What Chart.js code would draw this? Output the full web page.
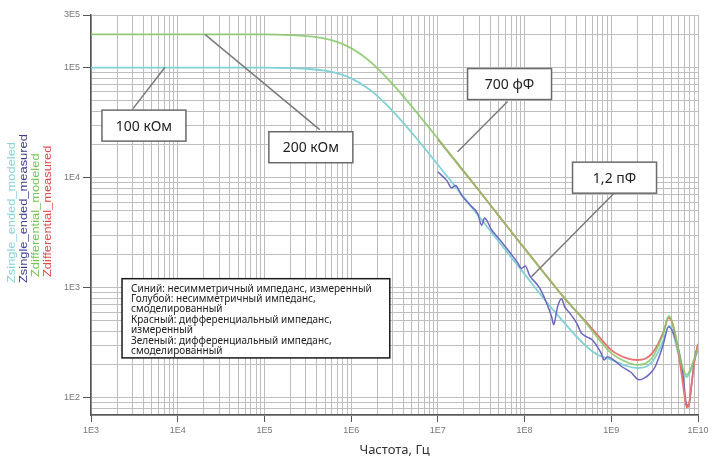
<!DOCTYPE html>
<html>
<head>
<meta charset="utf-8">
<script src="https://cdn.jsdelivr.net/npm/chart.js@4/dist/chart.umd.min.js"></script>
<style>
  html, body { margin: 0; padding: 0; background: #fff; }
  #wrap { width: 721px; height: 460px; }
</style>
</head>
<body>
<div id="wrap"><canvas id="impChart" width="721" height="460"></canvas></div>
<script>
// modeled curves share one frequency list
const freqModel = [1e3, 1e4, 1e5, 2e5, 3e5, 5e5, 7e5, 1e6, 1.5e6, 2e6, 3e6, 5e6, 7e6, 1e7, 2e7, 5e7, 1e8, 2e8, 5e8, 7e8,
    1e9, 1.5e9, 2e9, 2.5e9, 3e9, 3.5e9, 4e9, 4.6e9, 5e9, 5.5e9, 6e9, 6.5e9, 7e9, 7.4e9, 8e9, 9e9, 1e10];
const zDiffModeled = [2e5, 2e5, 2e5, 1.97e5, 1.93e5, 1.83e5, 1.70e5, 1.50e5, 1.21e5, 9.9e4, 7.1e4, 4.44e4, 3.21e4, 2.26e4, 1.14e4, 4550, 2270, 1140, 490, 350,
    255, 212, 200, 206, 235, 300, 390, 556, 500, 370, 265, 200, 170, 162, 175, 225, 285];
const zSingleModeled = [1e5, 1e5, 1e5, 9.89e4, 9.75e4, 9.36e4, 8.84e4, 7.98e4, 6.62e4, 5.53e4, 4.04e4, 2.56e4, 1.86e4, 1.31e4, 6620, 2650, 1330, 670, 300, 245,
    222, 195, 187, 192, 215, 265, 335, 452, 420, 320, 240, 190, 162, 155, 168, 215, 273];

// measured curves
const freqSingleMeas = [1e7, 1.27e7, 1.44e7, 1.6e7, 1.88e7, 2.32e7, 2.88e7, 3.2e7, 3.46e7, 4.17e7, 5.15e7, 6.75e7, 8.3e7, 9.2e7, 1.02e8, 1.14e8,
    1.49e8, 1.79e8, 2.05e8, 2.17e8, 2.28e8, 2.4e8, 2.67e8, 2.9e8, 3.3e8, 3.97e8, 4.5e8, 5.2e8, 6.0e8, 7.6e8, 8.3e8, 9.0e8,
    1.07e9, 1.34e9, 1.67e9, 2.1e9, 2.42e9, 2.7e9, 3.2e9, 3.9e9, 4.6e9, 5.4e9, 6.1e9, 6.8e9, 7.3e9, 7.8e9, 8.4e9, 9.2e9, 1e10];
const zSingleMeas = [1.13e4, 9400, 8100, 8500, 6900, 5700, 4700, 3700, 4300, 3350, 2750, 2100, 1700, 1500, 1580, 1300,
    1000, 731, 545, 461, 545, 671, 795, 671, 593, 481, 390, 359, 337, 257, 221, 236,
    221, 191, 172, 146, 152, 162, 191, 291, 442, 359, 257, 150, 90, 85, 130, 230, 300];
const freqDiffMeas = [1e7, 1.5e7, 2e7, 3e7, 5e7, 7e7, 1e8, 1.5e8, 2e8, 3e8, 5e8, 7e8, 1e9, 1.5e9, 2e9, 2.5e9, 3e9, 3.5e9, 4e9, 4.6e9,
    5e9, 5.5e9, 6e9, 6.5e9, 7e9, 7.4e9, 7.8e9, 8.4e9, 9.2e9, 1e10];
const zDiffMeas = [2.24e4, 1.5e4, 1.13e4, 7600, 4550, 3250, 2280, 1530, 1150, 775, 500, 370, 272, 230, 221, 228, 258, 315, 400, 533,
    490, 365, 250, 160, 105, 82, 85, 130, 230, 310];

// axis ticks
const xMajor = [1e3, 1e4, 1e5, 1e6, 1e7, 1e8, 1e9, 1e10];
const xTickLabels = ['1E3', '1E4', '1E5', '1E6', '1E7', '1E8', '1E9', '1E10'];
const yMajor = [1e2, 1e3, 1e4, 1e5, 3e5];
const yTickLabels = ['1E2', '1E3', '1E4', '1E5', '3E5'];

const seriesNames = ['Zsingle_ended_modeled', 'Zsingle_ended_measured', 'Zdifferential_modeled', 'Zdifferential_measured'];
const seriesColors = ['#80d2d6', '#6a66c2', 'rgba(134,200,102,0.85)', '#e87272'];
const nameColors = ['#86d2da', '#3c3c94', '#74c250', '#e84848'];

const legendLines = [
    'Синий: несимметричный импеданс, измеренный',
    'Голубой: несимметричный импеданс,',
    'смоделированный',
    'Красный: дифференциальный импеданс,',
    'измеренный',
    'Зеленый: дифференциальный импеданс,',
    'смоделированный'
];

// callouts: box centre, leader start and leader tip in data coords
const notes = [
    { text: '100 кОм', at: [4.08e3, 2.97e4], from: [3.05e3, 4.24e4], to: [7.1e3, 1e5] },
    { text: '200 кОм', at: [3.43e5, 1.89e4], from: [4.34e5, 2.73e4], to: [2.06e4, 2e5] },
    { text: '700 фФ', at: [6.71e7, 7.08e4], from: [6.37e7, 4.91e4], to: [1.69e7, 1.72e4] },
    { text: '1,2 пФ', at: [1.09e9, 1e4], from: [1.09e9, 7.31e3], to: [1.2e8, 1.26e3] }
];

const pairs = (xs, ys) => xs.map((v, i) => ({ x: v, y: ys[i] }));

const near = (a, b) => Math.abs(a / b - 1) < 1e-9;
const majorIndex = (list, v) => list.findIndex(m => near(v, m));

function logTicks(min, max) {
    const out = [];
    for (let e = Math.floor(Math.log10(min)); e <= Math.ceil(Math.log10(max)); e++) {
        for (let d = 1; d <= 9; d++) {
            const v = d * Math.pow(10, e);
            if (v >= min * 0.999999 && v <= max * 1.000001) out.push({ value: v });
        }
    }
    return out;
}

const overlay = {
    id: 'overlay',
    afterDatasetsDraw(chart) {
        const { ctx, scales: { x, y } } = chart;
        const px = f => x.getPixelForValue(f);
        const py = z => y.getPixelForValue(z);
        ctx.save();

        // legend note box
        const lx = px(2.28e3), ly = py(1.21e3);
        const rx = px(2.79e6), by = py(231);
        ctx.fillStyle = '#fff';
        ctx.fillRect(lx, ly, rx - lx, by - ly);
        ctx.strokeStyle = '#1a1a1a';
        ctx.lineWidth = 1.5;
        ctx.strokeRect(lx, ly, rx - lx, by - ly);
        ctx.fillStyle = '#222';
        ctx.font = '10px "Noto Sans"';
        ctx.textAlign = 'left';
        ctx.textBaseline = 'middle';
        legendLines.forEach((t, i) => ctx.fillText(t, lx + 9, ly + 10 + i * 10.4));

        // callouts
        notes.forEach(n => {
            ctx.strokeStyle = '#7a7a7a';
            ctx.lineWidth = 1.5;
            ctx.beginPath();
            ctx.moveTo(px(n.from[0]), py(n.from[1]));
            ctx.lineTo(px(n.to[0]), py(n.to[1]));
            ctx.stroke();
            const cx = px(n.at[0]), cy = py(n.at[1]);
            const w = 84, h = 31;
            ctx.fillStyle = '#fff';
            ctx.fillRect(cx - w / 2, cy - h / 2, w, h);
            ctx.strokeStyle = '#6a6a6a';
            ctx.strokeRect(cx - w / 2, cy - h / 2, w, h);
            ctx.fillStyle = '#222';
            ctx.font = '14px "Noto Sans"';
            ctx.textAlign = 'center';
            ctx.fillText(n.text, cx, cy + 1);
        });

        // rotated series names on the left
        ctx.font = '11px "Liberation Sans"';
        ctx.textAlign = 'left';
        const cols = [12, 24, 36, 48];
        const bottoms = [283, 283, 277, 277];
        seriesNames.forEach((name, i) => {
            ctx.save();
            ctx.translate(cols[i], bottoms[i]);
            ctx.rotate(-Math.PI / 2);
            ctx.scale(1.17, 1);
            ctx.fillStyle = nameColors[i];
            ctx.fillText(name, 0, 0);
            ctx.restore();
        });
        ctx.restore();
    }
};

const mkSet = (i, xs, ys, order, width) => ({
    label: seriesNames[i],
    data: pairs(xs, ys),
    borderColor: seriesColors[i],
    borderWidth: width,
    showLine: true,
    pointRadius: 0,
    cubicInterpolationMode: 'monotone',
    order
});

new Chart(document.getElementById('impChart').getContext('2d'), {
    type: 'scatter',
    data: {
        datasets: [
            mkSet(0, freqModel, zSingleModeled, 4, 1.8),
            mkSet(1, freqSingleMeas, zSingleMeas, 3, 1.5),
            mkSet(3, freqDiffMeas, zDiffMeas, 2, 1.8),
            mkSet(2, freqModel, zDiffModeled, 1, 1.8)
        ]
    },
    options: {
        responsive: false,
        animation: false,
        layout: { padding: { top: 15, right: 23, left: 0, bottom: 0 } },
        plugins: { legend: { display: false }, tooltip: { enabled: false } },
        scales: {
            x: {
                type: 'logarithmic',
                min: 1e3,
                max: 1e10,
                afterFit: s => { s.height = 45; },
                afterBuildTicks: s => { s.ticks = logTicks(1e3, 1e10); },
                border: { color: '#555', width: 1.5 },
                grid: {
                    color: '#bebebe',
                    lineWidth: 1,
                    tickLength: 7,
                    tickColor: c => (c.tick && majorIndex(xMajor, c.tick.value) >= 0) ? '#555' : 'rgba(0,0,0,0)'
                },
                ticks: {
                    autoSkip: false,
                    maxRotation: 0,
                    padding: 3,
                    color: '#777',
                    font: { family: 'Liberation Sans', size: 9 },
                    callback: v => { const k = majorIndex(xMajor, v); return k >= 0 ? xTickLabels[k] : ''; }
                },
                title: {
                    display: true,
                    text: 'Частота, Гц',
                    color: '#333',
                    font: { family: 'Noto Sans', size: 13 },
                    padding: { top: 0, bottom: 2 }
                }
            },
            y: {
                type: 'logarithmic',
                min: 70,
                max: 3e5,
                afterFit: s => { s.width = 91; },
                afterBuildTicks: s => { s.ticks = logTicks(70, 3e5); },
                border: { color: '#555', width: 1.5 },
                grid: {
                    color: '#bebebe',
                    lineWidth: 1,
                    tickLength: 8,
                    tickColor: c => (c.tick && majorIndex(yMajor, c.tick.value) >= 0) ? '#555' : 'rgba(0,0,0,0)'
                },
                ticks: {
                    autoSkip: false,
                    padding: 3,
                    color: '#777',
                    font: { family: 'Liberation Sans', size: 9 },
                    callback: v => { const k = majorIndex(yMajor, v); return k >= 0 ? yTickLabels[k] : ''; }
                }
            }
        }
    },
    plugins: [overlay]
});
</script>
</body>
</html>
